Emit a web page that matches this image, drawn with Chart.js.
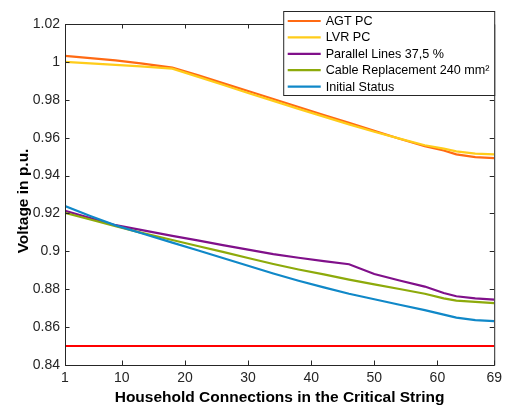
<!DOCTYPE html>
<html>
<head>
<meta charset="utf-8">
<script src="https://cdn.jsdelivr.net/npm/chart.js@4.4.1/dist/chart.umd.min.js"></script>
<style>
  html, body { margin: 0; padding: 0; background: #ffffff; }
</style>
</head>
<body>
<canvas id="myChart" width="507" height="408"></canvas>
<script>
const households = [1, 5, 9, 13, 18, 22, 26, 30, 34, 38, 42, 46, 50, 54, 58, 61, 63, 66, 69];

const agtPC = [1.0032, 1.0020, 1.0008, 0.9992, 0.9970, 0.9930, 0.9888, 0.9846, 0.9804, 0.9762,
  0.9720, 0.9678, 0.9636, 0.9594, 0.9555, 0.9532, 0.9512, 0.9497, 0.9492];
const lvrPC = [1.0000, 0.9992, 0.9984, 0.9976, 0.9964, 0.9922, 0.9879, 0.9836, 0.9794, 0.9752,
  0.9711, 0.9670, 0.9631, 0.9595, 0.9560, 0.9542, 0.9528, 0.9516, 0.9512];
const parallelLines = [0.9214, 0.9176, 0.9138, 0.9113, 0.9082, 0.9058, 0.9033, 0.9009, 0.8985, 0.8966,
  0.8948, 0.8932, 0.8880, 0.8846, 0.8814, 0.8780, 0.8763, 0.8752, 0.8745];
const cableReplacement = [0.9203, 0.9168, 0.9133, 0.9099, 0.9060, 0.9028, 0.8997, 0.8965, 0.8933, 0.8904,
  0.8878, 0.8851, 0.8826, 0.8801, 0.8776, 0.8752, 0.8740, 0.8733, 0.8727];
const initialStatus = [0.9239, 0.9187, 0.9137, 0.9097, 0.9046, 0.9006, 0.8965, 0.8924, 0.8883, 0.8845,
  0.8810, 0.8776, 0.8747, 0.8718, 0.8690, 0.8666, 0.8650, 0.8637, 0.8632];

// voltage limit
const limitX = [1, 69];
const limitY = [0.85, 0.85];

const xTicks = [1, 10, 20, 30, 40, 50, 60, 69];
const yTicks = [0.84, 0.86, 0.88, 0.9, 0.92, 0.94, 0.96, 0.98, 1, 1.02];

const seriesNames = ['AGT PC', 'LVR PC', 'Parallel Lines 37,5 %', 'Cable Replacement 240 mm\u00B2', 'Initial Status'];
const seriesValues = [agtPC, lvrPC, parallelLines, cableReplacement, initialStatus];
const seriesColors = ['#FF6A13', '#FFCC1A', '#80108A', '#8DAA0B', '#1088C8'];

const FONT = "'Liberation Sans', Arial, sans-serif";
const AXIS_COLOR = '#262626';
Chart.defaults.font.family = FONT;

function toPoints(xs, ys) {
  return xs.map((x, i) => ({ x: x, y: ys[i] }));
}

const datasets = seriesNames.map((name, i) => ({
  label: name,
  data: toPoints(households, seriesValues[i]),
  borderColor: seriesColors[i],
  backgroundColor: seriesColors[i],
  borderWidth: 2.2,
  pointRadius: 0,
  tension: 0,
  order: seriesNames.length - i // later series drawn on top, like matlab
}));
datasets.push({
  label: 'limit',
  data: toPoints(limitX, limitY),
  borderColor: '#FF0000',
  borderWidth: 2,
  pointRadius: 0,
  order: 10
});

// box + inward ticks, matlab style
const boxAxes = {
  id: 'boxAxes',
  afterDatasetsDraw(chart) {
    const { ctx, chartArea: a, scales } = chart;
    const len = 4.5;
    ctx.save();
    ctx.strokeStyle = AXIS_COLOR;
    ctx.lineWidth = 1;
    ctx.beginPath();
    ctx.rect(a.left + 0.5, a.top + 0.5, a.right - a.left, a.bottom - a.top);
    xTicks.forEach(v => {
      const px = Math.round(scales.x.getPixelForValue(v)) + 0.5;
      ctx.moveTo(px, a.bottom); ctx.lineTo(px, a.bottom - len);
      ctx.moveTo(px, a.top); ctx.lineTo(px, a.top + len);
    });
    yTicks.forEach(v => {
      const py = Math.round(scales.y.getPixelForValue(v)) + 0.5;
      ctx.moveTo(a.left, py); ctx.lineTo(a.left + len, py);
      ctx.moveTo(a.right, py); ctx.lineTo(a.right - len, py);
    });
    ctx.stroke();
    ctx.restore();
  }
};

// legend box in the upper right, sticking out above the axes
const boxLegend = {
  id: 'boxLegend',
  afterDraw(chart) {
    const { ctx, chartArea: a } = chart;
    const w = 211, h = 84;
    const x0 = a.right - w + 0.5, y0 = 11.5;
    ctx.save();
    ctx.fillStyle = '#ffffff';
    ctx.strokeStyle = AXIS_COLOR;
    ctx.lineWidth = 1;
    ctx.fillRect(x0, y0, w, h);
    ctx.strokeRect(x0, y0, w, h);
    ctx.font = '12.6px ' + FONT;
    ctx.textBaseline = 'middle';
    ctx.fillStyle = '#000000';
    seriesNames.forEach((name, i) => {
      const y = y0 + 9.5 + i * 16.4;
      ctx.strokeStyle = seriesColors[i];
      ctx.lineWidth = 2.2;
      ctx.beginPath();
      ctx.moveTo(x0 + 4, y); ctx.lineTo(x0 + 37, y);
      ctx.stroke();
      ctx.fillText(name, x0 + 42, y + 0.5);
    });
    ctx.restore();
  }
};

new Chart(document.getElementById('myChart').getContext('2d'), {
  type: 'line',
  data: { datasets: datasets },
  options: {
    responsive: false,
    animation: false,
    layout: { padding: { top: 24, right: 12, left: 0, bottom: 0 } },
    plugins: {
      legend: { display: false },
      tooltip: { enabled: false }
    },
    scales: {
      x: {
        type: 'linear',
        min: 1,
        max: 69,
        afterBuildTicks: scale => { scale.ticks = xTicks.map(v => ({ value: v })); },
        afterFit: scale => { scale.height = 43; },
        grid: { display: false, drawTicks: false },
        border: { display: false },
        ticks: {
          color: AXIS_COLOR,
          font: { size: 14 },
          padding: 5,
          maxRotation: 0,
          autoSkip: false
        },
        title: {
          display: true,
          text: 'Household Connections in the Critical String',
          color: '#000000',
          font: { size: 15.5, weight: 'bold' },
          padding: { top: 0, bottom: 0.7 }
        }
      },
      y: {
        min: 0.84,
        max: 1.02,
        afterBuildTicks: scale => { scale.ticks = yTicks.map(v => ({ value: v })); },
        afterFit: scale => { scale.width = 65; },
        grid: { display: false, drawTicks: false },
        border: { display: false },
        ticks: {
          color: AXIS_COLOR,
          font: { size: 14 },
          padding: 5,
          autoSkip: false,
          callback: v => String(Number(v.toFixed(2)))
        },
        title: {
          display: true,
          // trailing spaces nudge the label a bit lower, as in the original
          text: 'Voltage in p.u.   ',
          color: '#000000',
          font: { size: 15.5, weight: 'bold' },
          padding: { top: 14.2, bottom: 0 }
        }
      }
    }
  },
  plugins: [boxAxes, boxLegend]
});
</script>
</body>
</html>
